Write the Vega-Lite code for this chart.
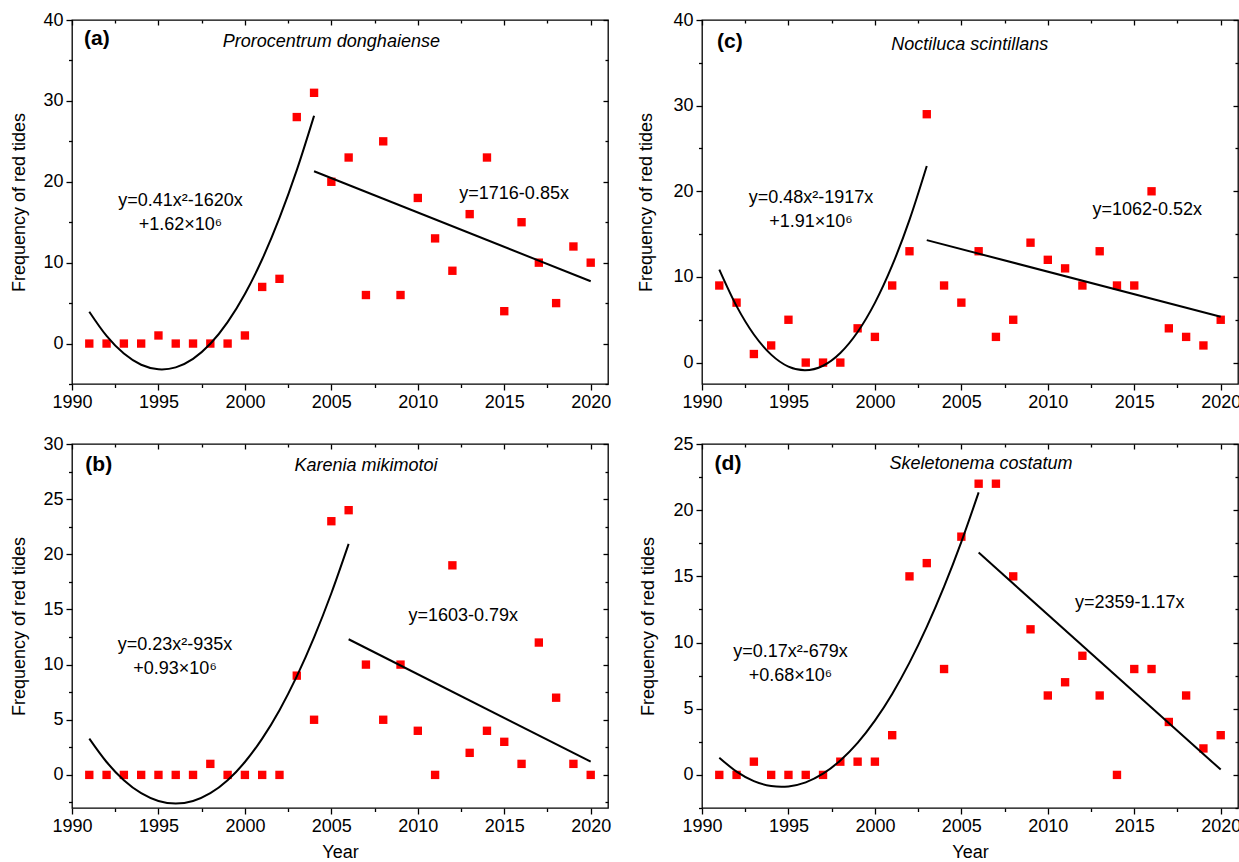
{
  "$schema": "https://vega.github.io/schema/vega-lite/v6.json",
  "autosize": {"type": "pad"},
  "padding": {"left": 10, "top": 10, "right": 0, "bottom": 0},
  "background": "white",
  "config": {
    "font": "Liberation Sans",
    "view": {"stroke": "black", "strokeWidth": 1.3},
    "axis": {
      "labelFont": "Liberation Sans", "titleFont": "Liberation Sans",
      "labelColor": "black", "titleColor": "black", "tickColor": "black",
      "tickWidth": 1.3, "domain": false, "grid": false,
      "labelFontSize": 18, "titleFontSize": 18, "titleFontWeight": "normal",
      "labelOverlap": false, "labelFlush": false, "labelPadding": 3
    },
    "text": {"font": "Liberation Sans", "fontSize": 18, "color": "black"}
  },
  "datasets": {
    "obs": [
      {"panel": "a", "year": 1991, "value": 0}, {"panel": "a", "year": 1992, "value": 0}, {"panel": "a", "year": 1993, "value": 0}, {"panel": "a", "year": 1994, "value": 0}, {"panel": "a", "year": 1995, "value": 1}, {"panel": "a", "year": 1996, "value": 0}, {"panel": "a", "year": 1997, "value": 0}, {"panel": "a", "year": 1998, "value": 0}, {"panel": "a", "year": 1999, "value": 0}, {"panel": "a", "year": 2000, "value": 1},
      {"panel": "a", "year": 2001, "value": 7}, {"panel": "a", "year": 2002, "value": 8}, {"panel": "a", "year": 2003, "value": 28}, {"panel": "a", "year": 2004, "value": 31}, {"panel": "a", "year": 2005, "value": 20}, {"panel": "a", "year": 2006, "value": 23}, {"panel": "a", "year": 2007, "value": 6}, {"panel": "a", "year": 2008, "value": 25}, {"panel": "a", "year": 2009, "value": 6}, {"panel": "a", "year": 2010, "value": 18},
      {"panel": "a", "year": 2011, "value": 13}, {"panel": "a", "year": 2012, "value": 9}, {"panel": "a", "year": 2013, "value": 16}, {"panel": "a", "year": 2014, "value": 23}, {"panel": "a", "year": 2015, "value": 4}, {"panel": "a", "year": 2016, "value": 15}, {"panel": "a", "year": 2017, "value": 10}, {"panel": "a", "year": 2018, "value": 5}, {"panel": "a", "year": 2019, "value": 12}, {"panel": "a", "year": 2020, "value": 10},
      {"panel": "c", "year": 1991, "value": 9}, {"panel": "c", "year": 1992, "value": 7}, {"panel": "c", "year": 1993, "value": 1}, {"panel": "c", "year": 1994, "value": 2}, {"panel": "c", "year": 1995, "value": 5}, {"panel": "c", "year": 1996, "value": 0}, {"panel": "c", "year": 1997, "value": 0}, {"panel": "c", "year": 1998, "value": 0}, {"panel": "c", "year": 1999, "value": 4}, {"panel": "c", "year": 2000, "value": 3},
      {"panel": "c", "year": 2001, "value": 9}, {"panel": "c", "year": 2002, "value": 13}, {"panel": "c", "year": 2003, "value": 29}, {"panel": "c", "year": 2004, "value": 9}, {"panel": "c", "year": 2005, "value": 7}, {"panel": "c", "year": 2006, "value": 13}, {"panel": "c", "year": 2007, "value": 3}, {"panel": "c", "year": 2008, "value": 5}, {"panel": "c", "year": 2009, "value": 14}, {"panel": "c", "year": 2010, "value": 12},
      {"panel": "c", "year": 2011, "value": 11}, {"panel": "c", "year": 2012, "value": 9}, {"panel": "c", "year": 2013, "value": 13}, {"panel": "c", "year": 2014, "value": 9}, {"panel": "c", "year": 2015, "value": 9}, {"panel": "c", "year": 2016, "value": 20}, {"panel": "c", "year": 2017, "value": 4}, {"panel": "c", "year": 2018, "value": 3}, {"panel": "c", "year": 2019, "value": 2}, {"panel": "c", "year": 2020, "value": 5},
      {"panel": "b", "year": 1991, "value": 0}, {"panel": "b", "year": 1992, "value": 0}, {"panel": "b", "year": 1993, "value": 0}, {"panel": "b", "year": 1994, "value": 0}, {"panel": "b", "year": 1995, "value": 0}, {"panel": "b", "year": 1996, "value": 0}, {"panel": "b", "year": 1997, "value": 0}, {"panel": "b", "year": 1998, "value": 1}, {"panel": "b", "year": 1999, "value": 0}, {"panel": "b", "year": 2000, "value": 0},
      {"panel": "b", "year": 2001, "value": 0}, {"panel": "b", "year": 2002, "value": 0}, {"panel": "b", "year": 2003, "value": 9}, {"panel": "b", "year": 2004, "value": 5}, {"panel": "b", "year": 2005, "value": 23}, {"panel": "b", "year": 2006, "value": 24}, {"panel": "b", "year": 2007, "value": 10}, {"panel": "b", "year": 2008, "value": 5}, {"panel": "b", "year": 2009, "value": 10}, {"panel": "b", "year": 2010, "value": 4},
      {"panel": "b", "year": 2011, "value": 0}, {"panel": "b", "year": 2012, "value": 19}, {"panel": "b", "year": 2013, "value": 2}, {"panel": "b", "year": 2014, "value": 4}, {"panel": "b", "year": 2015, "value": 3}, {"panel": "b", "year": 2016, "value": 1}, {"panel": "b", "year": 2017, "value": 12}, {"panel": "b", "year": 2018, "value": 7}, {"panel": "b", "year": 2019, "value": 1}, {"panel": "b", "year": 2020, "value": 0},
      {"panel": "d", "year": 1991, "value": 0}, {"panel": "d", "year": 1992, "value": 0}, {"panel": "d", "year": 1993, "value": 1}, {"panel": "d", "year": 1994, "value": 0}, {"panel": "d", "year": 1995, "value": 0}, {"panel": "d", "year": 1996, "value": 0}, {"panel": "d", "year": 1997, "value": 0}, {"panel": "d", "year": 1998, "value": 1}, {"panel": "d", "year": 1999, "value": 1}, {"panel": "d", "year": 2000, "value": 1},
      {"panel": "d", "year": 2001, "value": 3}, {"panel": "d", "year": 2002, "value": 15}, {"panel": "d", "year": 2003, "value": 16}, {"panel": "d", "year": 2004, "value": 8}, {"panel": "d", "year": 2005, "value": 18}, {"panel": "d", "year": 2006, "value": 22}, {"panel": "d", "year": 2007, "value": 22}, {"panel": "d", "year": 2008, "value": 15}, {"panel": "d", "year": 2009, "value": 11}, {"panel": "d", "year": 2010, "value": 6},
      {"panel": "d", "year": 2011, "value": 7}, {"panel": "d", "year": 2012, "value": 9}, {"panel": "d", "year": 2013, "value": 6}, {"panel": "d", "year": 2014, "value": 0}, {"panel": "d", "year": 2015, "value": 8}, {"panel": "d", "year": 2016, "value": 8}, {"panel": "d", "year": 2017, "value": 4}, {"panel": "d", "year": 2018, "value": 6}, {"panel": "d", "year": 2019, "value": 2}, {"panel": "d", "year": 2020, "value": 3}
    ],
    "fit": [
      {"panel": "a", "part": "quad", "year": 1991, "value": 3.94}, {"panel": "a", "part": "quad", "year": 1992, "value": 0.95}, {"panel": "a", "part": "quad", "year": 1993, "value": -1.24}, {"panel": "a", "part": "quad", "year": 1994, "value": -2.62}, {"panel": "a", "part": "quad", "year": 1995, "value": -3.18}, {"panel": "a", "part": "quad", "year": 1995.2, "value": -3.2}, {"panel": "a", "part": "quad", "year": 1996, "value": -2.94}, {"panel": "a", "part": "quad", "year": 1997, "value": -1.89}, {"panel": "a", "part": "quad", "year": 1998, "value": -0.03}, {"panel": "a", "part": "quad", "year": 1999, "value": 2.65}, {"panel": "a", "part": "quad", "year": 2000, "value": 6.13}, {"panel": "a", "part": "quad", "year": 2001, "value": 10.42}, {"panel": "a", "part": "quad", "year": 2002, "value": 15.53}, {"panel": "a", "part": "quad", "year": 2003, "value": 21.44}, {"panel": "a", "part": "quad", "year": 2004, "value": 28.16},
      {"panel": "a", "part": "lin", "year": 2004, "value": 21.3}, {"panel": "a", "part": "lin", "year": 2020, "value": 7.7},
      {"panel": "c", "part": "quad", "year": 1991, "value": 10.86}, {"panel": "c", "part": "quad", "year": 1992, "value": 6.59}, {"panel": "c", "part": "quad", "year": 1993, "value": 3.28}, {"panel": "c", "part": "quad", "year": 1994, "value": 0.93}, {"panel": "c", "part": "quad", "year": 1995, "value": -0.47}, {"panel": "c", "part": "quad", "year": 1995.95, "value": -0.9}, {"panel": "c", "part": "quad", "year": 1997, "value": -0.37}, {"panel": "c", "part": "quad", "year": 1998, "value": 1.12}, {"panel": "c", "part": "quad", "year": 1999, "value": 3.57}, {"panel": "c", "part": "quad", "year": 2000, "value": 6.97}, {"panel": "c", "part": "quad", "year": 2001, "value": 11.34}, {"panel": "c", "part": "quad", "year": 2002, "value": 16.67}, {"panel": "c", "part": "quad", "year": 2003, "value": 22.96},
      {"panel": "c", "part": "lin", "year": 2003, "value": 14.3}, {"panel": "c", "part": "lin", "year": 2020, "value": 5.35},
      {"panel": "b", "part": "quad", "year": 1991, "value": 3.29}, {"panel": "b", "part": "quad", "year": 1992, "value": 1.17}, {"panel": "b", "part": "quad", "year": 1993, "value": -0.48}, {"panel": "b", "part": "quad", "year": 1994, "value": -1.66}, {"panel": "b", "part": "quad", "year": 1995, "value": -2.36}, {"panel": "b", "part": "quad", "year": 1996, "value": -2.6}, {"panel": "b", "part": "quad", "year": 1997, "value": -2.36}, {"panel": "b", "part": "quad", "year": 1998, "value": -1.66}, {"panel": "b", "part": "quad", "year": 1999, "value": -0.48}, {"panel": "b", "part": "quad", "year": 2000, "value": 1.17}, {"panel": "b", "part": "quad", "year": 2001, "value": 3.29}, {"panel": "b", "part": "quad", "year": 2002, "value": 5.87}, {"panel": "b", "part": "quad", "year": 2003, "value": 8.93}, {"panel": "b", "part": "quad", "year": 2004, "value": 12.47}, {"panel": "b", "part": "quad", "year": 2005, "value": 16.47}, {"panel": "b", "part": "quad", "year": 2006, "value": 20.94},
      {"panel": "b", "part": "lin", "year": 2006, "value": 12.3}, {"panel": "b", "part": "lin", "year": 2020, "value": 1.2},
      {"panel": "d", "part": "quad", "year": 1991, "value": 1.3}, {"panel": "d", "part": "quad", "year": 1992, "value": 0.25}, {"panel": "d", "part": "quad", "year": 1993, "value": -0.47}, {"panel": "d", "part": "quad", "year": 1994, "value": -0.84}, {"panel": "d", "part": "quad", "year": 1994.59, "value": -0.9}, {"panel": "d", "part": "quad", "year": 1995, "value": -0.87}, {"panel": "d", "part": "quad", "year": 1996, "value": -0.56}, {"panel": "d", "part": "quad", "year": 1997, "value": 0.09}, {"panel": "d", "part": "quad", "year": 1998, "value": 1.09}, {"panel": "d", "part": "quad", "year": 1999, "value": 2.42}, {"panel": "d", "part": "quad", "year": 2000, "value": 4.1}, {"panel": "d", "part": "quad", "year": 2001, "value": 6.12}, {"panel": "d", "part": "quad", "year": 2002, "value": 8.48}, {"panel": "d", "part": "quad", "year": 2003, "value": 11.18}, {"panel": "d", "part": "quad", "year": 2004, "value": 14.22}, {"panel": "d", "part": "quad", "year": 2005, "value": 17.61}, {"panel": "d", "part": "quad", "year": 2006, "value": 21.34},
      {"panel": "d", "part": "lin", "year": 2006, "value": 16.8}, {"panel": "d", "part": "lin", "year": 2020, "value": 0.4}
    ]
  },
  "columns": 2,
  "spacing": {"row": 60, "column": 94},
  "bounds": "flush",
  "concat": [
    {
      "width": 536, "height": 364,
      "resolve": {"axis": {"x": "independent", "y": "independent"}},
      "layer": [
        {"data": {"name": "obs"}, "transform": [{"filter": "datum.panel === 'a'"}],
         "mark": {"type": "square", "color": "#ff0000", "size": 70, "opacity": 1},
         "encoding": {
           "x": {"field": "year", "type": "quantitative", "scale": {"domain": [1990, 2021], "nice": false, "zero": false},
                 "axis": {"orient": "bottom", "values": [1990, 1992.5, 1995, 1997.5, 2000, 2002.5, 2005, 2007.5, 2010, 2012.5, 2015, 2017.5, 2020], "format": "d", "labelExpr": "datum.value % 5 === 0 ? datum.label : ''", "tickSize": {"condition": {"test": "datum.value % 5 === 0", "value": 6}, "value": 3.5}, "title": null}},
           "y": {"field": "value", "type": "quantitative", "scale": {"domain": [-5, 40], "nice": false, "zero": false},
                 "axis": {"orient": "left", "values": [-5, 0, 5, 10, 15, 20, 25, 30, 35, 40], "labelExpr": "datum.value % 10 === 0 ? datum.label : ''", "tickSize": {"condition": {"test": "datum.value % 10 === 0", "value": 6}, "value": 3.5}, "title": "Frequency of red tides", "titlePadding": 14}}
         }},
        {"data": {"name": "fit"}, "transform": [{"filter": "datum.panel === 'a' && datum.part === 'quad'"}],
         "mark": {"type": "line", "color": "black", "strokeWidth": 2, "interpolate": "monotone"},
         "encoding": {
           "x": {"field": "year", "type": "quantitative", "scale": {"domain": [1990, 2021], "nice": false, "zero": false},
                 "axis": {"orient": "top", "values": [1990, 1992.5, 1995, 1997.5, 2000, 2002.5, 2005, 2007.5, 2010, 2012.5, 2015, 2017.5, 2020], "labels": false, "tickSize": {"condition": {"test": "datum.value % 5 === 0", "value": -5}, "value": -3}, "title": null}},
           "y": {"field": "value", "type": "quantitative", "scale": {"domain": [-5, 40], "nice": false, "zero": false},
                 "axis": {"orient": "right", "values": [-5, 0, 5, 10, 15, 20, 25, 30, 35, 40], "labels": false, "tickSize": {"condition": {"test": "datum.value % 10 === 0", "value": -5}, "value": -3}, "title": null}}
         }},
        {"data": {"name": "fit"}, "transform": [{"filter": "datum.panel === 'a' && datum.part === 'lin'"}],
         "mark": {"type": "line", "color": "black", "strokeWidth": 2},
         "encoding": {
           "x": {"field": "year", "type": "quantitative", "scale": {"domain": [1990, 2021], "nice": false, "zero": false}, "axis": null},
           "y": {"field": "value", "type": "quantitative", "scale": {"domain": [-5, 40], "nice": false, "zero": false}, "axis": null}
         }},
        {"data": {"values": [{}]}, "mark": {"type": "text", "align": "left", "baseline": "middle", "fontWeight": "bold", "fontSize": 21},
         "encoding": {"x": {"datum": 1990.7, "type": "quantitative", "axis": null}, "y": {"datum": 37.7, "type": "quantitative", "axis": null}, "text": {"value": "(a)"}}},
        {"data": {"values": [{}]}, "mark": {"type": "text", "align": "center", "baseline": "middle", "fontStyle": "italic"},
         "encoding": {"x": {"datum": 2005.0, "type": "quantitative", "axis": null}, "y": {"datum": 37.3, "type": "quantitative", "axis": null}, "text": {"value": "Prorocentrum donghaiense"}}},
        {"data": {"values": [{}]}, "mark": {"type": "text", "align": "center", "baseline": "middle", "lineHeight": 24},
         "encoding": {"x": {"datum": 1996.27, "type": "quantitative", "axis": null}, "y": {"datum": 17.6, "type": "quantitative", "axis": null}, "text": {"value": ["y=0.41x²-1620x", "+1.62×10⁶"]}}},
        {"data": {"values": [{}]}, "mark": {"type": "text", "align": "center", "baseline": "middle"},
         "encoding": {"x": {"datum": 2015.57, "type": "quantitative", "axis": null}, "y": {"datum": 18.44, "type": "quantitative", "axis": null}, "text": {"value": "y=1716-0.85x"}}}
      ]
    },
    {
      "width": 536, "height": 364,
      "resolve": {"axis": {"x": "independent", "y": "independent"}},
      "layer": [
        {"data": {"name": "obs"}, "transform": [{"filter": "datum.panel === 'c'"}],
         "mark": {"type": "square", "color": "#ff0000", "size": 70, "opacity": 1},
         "encoding": {
           "x": {"field": "year", "type": "quantitative", "scale": {"domain": [1990, 2021], "nice": false, "zero": false},
                 "axis": {"orient": "bottom", "values": [1990, 1992.5, 1995, 1997.5, 2000, 2002.5, 2005, 2007.5, 2010, 2012.5, 2015, 2017.5, 2020], "format": "d", "labelExpr": "datum.value % 5 === 0 ? datum.label : ''", "tickSize": {"condition": {"test": "datum.value % 5 === 0", "value": 6}, "value": 3.5}, "title": null}},
           "y": {"field": "value", "type": "quantitative", "scale": {"domain": [-2.5, 40], "nice": false, "zero": false},
                 "axis": {"orient": "left", "values": [0, 5, 10, 15, 20, 25, 30, 35, 40], "labelExpr": "datum.value % 10 === 0 ? datum.label : ''", "tickSize": {"condition": {"test": "datum.value % 10 === 0", "value": 6}, "value": 3.5}, "title": "Frequency of red tides", "titlePadding": 17}}
         }},
        {"data": {"name": "fit"}, "transform": [{"filter": "datum.panel === 'c' && datum.part === 'quad'"}],
         "mark": {"type": "line", "color": "black", "strokeWidth": 2, "interpolate": "monotone"},
         "encoding": {
           "x": {"field": "year", "type": "quantitative", "scale": {"domain": [1990, 2021], "nice": false, "zero": false},
                 "axis": {"orient": "top", "values": [1990, 1992.5, 1995, 1997.5, 2000, 2002.5, 2005, 2007.5, 2010, 2012.5, 2015, 2017.5, 2020], "labels": false, "tickSize": {"condition": {"test": "datum.value % 5 === 0", "value": -5}, "value": -3}, "title": null}},
           "y": {"field": "value", "type": "quantitative", "scale": {"domain": [-2.5, 40], "nice": false, "zero": false},
                 "axis": {"orient": "right", "values": [0, 5, 10, 15, 20, 25, 30, 35, 40], "labels": false, "tickSize": {"condition": {"test": "datum.value % 10 === 0", "value": -5}, "value": -3}, "title": null}}
         }},
        {"data": {"name": "fit"}, "transform": [{"filter": "datum.panel === 'c' && datum.part === 'lin'"}],
         "mark": {"type": "line", "color": "black", "strokeWidth": 2},
         "encoding": {
           "x": {"field": "year", "type": "quantitative", "scale": {"domain": [1990, 2021], "nice": false, "zero": false}, "axis": null},
           "y": {"field": "value", "type": "quantitative", "scale": {"domain": [-2.5, 40], "nice": false, "zero": false}, "axis": null}
         }},
        {"data": {"values": [{}]}, "mark": {"type": "text", "align": "left", "baseline": "middle", "fontWeight": "bold", "fontSize": 21},
         "encoding": {"x": {"datum": 1990.87, "type": "quantitative", "axis": null}, "y": {"datum": 37.4, "type": "quantitative", "axis": null}, "text": {"value": "(c)"}}},
        {"data": {"values": [{}]}, "mark": {"type": "text", "align": "center", "baseline": "middle", "fontStyle": "italic"},
         "encoding": {"x": {"datum": 2005.49, "type": "quantitative", "axis": null}, "y": {"datum": 37.1, "type": "quantitative", "axis": null}, "text": {"value": "Noctiluca scintillans"}}},
        {"data": {"values": [{}]}, "mark": {"type": "text", "align": "center", "baseline": "middle", "lineHeight": 24},
         "encoding": {"x": {"datum": 1996.3, "type": "quantitative", "axis": null}, "y": {"datum": 19.2, "type": "quantitative", "axis": null}, "text": {"value": ["y=0.48x²-1917x", "+1.91×10⁶"]}}},
        {"data": {"values": [{}]}, "mark": {"type": "text", "align": "center", "baseline": "middle"},
         "encoding": {"x": {"datum": 2015.75, "type": "quantitative", "axis": null}, "y": {"datum": 17.86, "type": "quantitative", "axis": null}, "text": {"value": "y=1062-0.52x"}}}
      ]
    },
    {
      "width": 536, "height": 364,
      "resolve": {"axis": {"x": "independent", "y": "independent"}},
      "layer": [
        {"data": {"name": "obs"}, "transform": [{"filter": "datum.panel === 'b'"}],
         "mark": {"type": "square", "color": "#ff0000", "size": 70, "opacity": 1},
         "encoding": {
           "x": {"field": "year", "type": "quantitative", "scale": {"domain": [1990, 2021], "nice": false, "zero": false},
                 "axis": {"orient": "bottom", "values": [1990, 1992.5, 1995, 1997.5, 2000, 2002.5, 2005, 2007.5, 2010, 2012.5, 2015, 2017.5, 2020], "format": "d", "labelExpr": "datum.value % 5 === 0 ? datum.label : ''", "tickSize": {"condition": {"test": "datum.value % 5 === 0", "value": 6}, "value": 3.5}, "title": "Year", "titlePadding": 8}},
           "y": {"field": "value", "type": "quantitative", "scale": {"domain": [-3, 30], "nice": false, "zero": false},
                 "axis": {"orient": "left", "values": [-2.5, 0, 2.5, 5, 7.5, 10, 12.5, 15, 17.5, 20, 22.5, 25, 27.5, 30], "labelExpr": "datum.value % 5 === 0 ? datum.label : ''", "tickSize": {"condition": {"test": "datum.value % 5 === 0", "value": 6}, "value": 3.5}, "title": "Frequency of red tides", "titlePadding": 14}}
         }},
        {"data": {"name": "fit"}, "transform": [{"filter": "datum.panel === 'b' && datum.part === 'quad'"}],
         "mark": {"type": "line", "color": "black", "strokeWidth": 2, "interpolate": "monotone"},
         "encoding": {
           "x": {"field": "year", "type": "quantitative", "scale": {"domain": [1990, 2021], "nice": false, "zero": false},
                 "axis": {"orient": "top", "values": [1990, 1992.5, 1995, 1997.5, 2000, 2002.5, 2005, 2007.5, 2010, 2012.5, 2015, 2017.5, 2020], "labels": false, "tickSize": {"condition": {"test": "datum.value % 5 === 0", "value": -5}, "value": -3}, "title": null}},
           "y": {"field": "value", "type": "quantitative", "scale": {"domain": [-3, 30], "nice": false, "zero": false},
                 "axis": {"orient": "right", "values": [-2.5, 0, 2.5, 5, 7.5, 10, 12.5, 15, 17.5, 20, 22.5, 25, 27.5, 30], "labels": false, "tickSize": {"condition": {"test": "datum.value % 5 === 0", "value": -5}, "value": -3}, "title": null}}
         }},
        {"data": {"name": "fit"}, "transform": [{"filter": "datum.panel === 'b' && datum.part === 'lin'"}],
         "mark": {"type": "line", "color": "black", "strokeWidth": 2},
         "encoding": {
           "x": {"field": "year", "type": "quantitative", "scale": {"domain": [1990, 2021], "nice": false, "zero": false}, "axis": null},
           "y": {"field": "value", "type": "quantitative", "scale": {"domain": [-3, 30], "nice": false, "zero": false}, "axis": null}
         }},
        {"data": {"values": [{}]}, "mark": {"type": "text", "align": "left", "baseline": "middle", "fontWeight": "bold", "fontSize": 21},
         "encoding": {"x": {"datum": 1990.77, "type": "quantitative", "axis": null}, "y": {"datum": 28.1, "type": "quantitative", "axis": null}, "text": {"value": "(b)"}}},
        {"data": {"values": [{}]}, "mark": {"type": "text", "align": "center", "baseline": "middle", "fontStyle": "italic"},
         "encoding": {"x": {"datum": 2007.0, "type": "quantitative", "axis": null}, "y": {"datum": 28.0, "type": "quantitative", "axis": null}, "text": {"value": "Karenia mikimotoi"}}},
        {"data": {"values": [{}]}, "mark": {"type": "text", "align": "center", "baseline": "middle", "lineHeight": 24},
         "encoding": {"x": {"datum": 1995.96, "type": "quantitative", "axis": null}, "y": {"datum": 11.8, "type": "quantitative", "axis": null}, "text": {"value": ["y=0.23x²-935x", "+0.93×10⁶"]}}},
        {"data": {"values": [{}]}, "mark": {"type": "text", "align": "center", "baseline": "middle"},
         "encoding": {"x": {"datum": 2012.63, "type": "quantitative", "axis": null}, "y": {"datum": 14.39, "type": "quantitative", "axis": null}, "text": {"value": "y=1603-0.79x"}}}
      ]
    },
    {
      "width": 536, "height": 364,
      "resolve": {"axis": {"x": "independent", "y": "independent"}},
      "layer": [
        {"data": {"name": "obs"}, "transform": [{"filter": "datum.panel === 'd'"}],
         "mark": {"type": "square", "color": "#ff0000", "size": 70, "opacity": 1},
         "encoding": {
           "x": {"field": "year", "type": "quantitative", "scale": {"domain": [1990, 2021], "nice": false, "zero": false},
                 "axis": {"orient": "bottom", "values": [1990, 1992.5, 1995, 1997.5, 2000, 2002.5, 2005, 2007.5, 2010, 2012.5, 2015, 2017.5, 2020], "format": "d", "labelExpr": "datum.value % 5 === 0 ? datum.label : ''", "tickSize": {"condition": {"test": "datum.value % 5 === 0", "value": 6}, "value": 3.5}, "title": "Year", "titlePadding": 8}},
           "y": {"field": "value", "type": "quantitative", "scale": {"domain": [-2.5, 25], "nice": false, "zero": false},
                 "axis": {"orient": "left", "values": [-2.5, 0, 2.5, 5, 7.5, 10, 12.5, 15, 17.5, 20, 22.5, 25], "labelExpr": "datum.value % 5 === 0 ? datum.label : ''", "tickSize": {"condition": {"test": "datum.value % 5 === 0", "value": 6}, "value": 3.5}, "title": "Frequency of red tides", "titlePadding": 15}}
         }},
        {"data": {"name": "fit"}, "transform": [{"filter": "datum.panel === 'd' && datum.part === 'quad'"}],
         "mark": {"type": "line", "color": "black", "strokeWidth": 2, "interpolate": "monotone"},
         "encoding": {
           "x": {"field": "year", "type": "quantitative", "scale": {"domain": [1990, 2021], "nice": false, "zero": false},
                 "axis": {"orient": "top", "values": [1990, 1992.5, 1995, 1997.5, 2000, 2002.5, 2005, 2007.5, 2010, 2012.5, 2015, 2017.5, 2020], "labels": false, "tickSize": {"condition": {"test": "datum.value % 5 === 0", "value": -5}, "value": -3}, "title": null}},
           "y": {"field": "value", "type": "quantitative", "scale": {"domain": [-2.5, 25], "nice": false, "zero": false},
                 "axis": {"orient": "right", "values": [-2.5, 0, 2.5, 5, 7.5, 10, 12.5, 15, 17.5, 20, 22.5, 25], "labels": false, "tickSize": {"condition": {"test": "datum.value % 5 === 0", "value": -5}, "value": -3}, "title": null}}
         }},
        {"data": {"name": "fit"}, "transform": [{"filter": "datum.panel === 'd' && datum.part === 'lin'"}],
         "mark": {"type": "line", "color": "black", "strokeWidth": 2},
         "encoding": {
           "x": {"field": "year", "type": "quantitative", "scale": {"domain": [1990, 2021], "nice": false, "zero": false}, "axis": null},
           "y": {"field": "value", "type": "quantitative", "scale": {"domain": [-2.5, 25], "nice": false, "zero": false}, "axis": null}
         }},
        {"data": {"values": [{}]}, "mark": {"type": "text", "align": "left", "baseline": "middle", "fontWeight": "bold", "fontSize": 21},
         "encoding": {"x": {"datum": 1990.73, "type": "quantitative", "axis": null}, "y": {"datum": 23.46, "type": "quantitative", "axis": null}, "text": {"value": "(d)"}}},
        {"data": {"values": [{}]}, "mark": {"type": "text", "align": "center", "baseline": "middle", "fontStyle": "italic"},
         "encoding": {"x": {"datum": 2006.14, "type": "quantitative", "axis": null}, "y": {"datum": 23.46, "type": "quantitative", "axis": null}, "text": {"value": "Skeletonema costatum"}}},
        {"data": {"values": [{}]}, "mark": {"type": "text", "align": "center", "baseline": "middle", "lineHeight": 24},
         "encoding": {"x": {"datum": 1995.12, "type": "quantitative", "axis": null}, "y": {"datum": 9.31, "type": "quantitative", "axis": null}, "text": {"value": ["y=0.17x²-679x", "+0.68×10⁶"]}}},
        {"data": {"values": [{}]}, "mark": {"type": "text", "align": "center", "baseline": "middle"},
         "encoding": {"x": {"datum": 2014.74, "type": "quantitative", "axis": null}, "y": {"datum": 13.01, "type": "quantitative", "axis": null}, "text": {"value": "y=2359-1.17x"}}}
      ]
    }
  ]
}
